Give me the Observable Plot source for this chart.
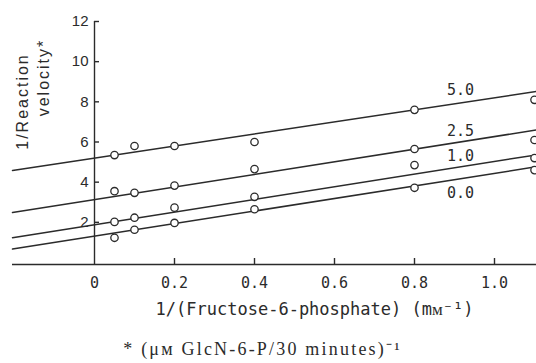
<!DOCTYPE html>
<html>
<head>
<meta charset="utf-8">
<script src="https://cdn.jsdelivr.net/npm/d3@7"></script>
<script src="https://cdn.jsdelivr.net/npm/@observablehq/plot@0.6"></script>
<style>
  html, body { margin: 0; padding: 0; background: #fff; }
  svg { display: block; }
</style>
</head>
<body>
<div id="chart"></div>
<script>
// ---- data ----
const concentrations = ["5.0", "2.5", "1.0", "0.0"];          // GlcN-6-P (series labels)
const fructoseInv = [0.05, 0.1, 0.2, 0.4, 0.8, 1.1];          // 1/(Fructose-6-phosphate)
const velInv_50 = [5.35, 5.8, 5.8, 6.0, 7.6, 8.1];
const velInv_25 = [3.55, 3.47, 3.83, 4.65, 5.65, 6.1];
const velInv_10 = [2.02, 2.23, 2.73, 3.27, 4.85, 5.2];
const velInv_00 = [1.23, 1.63, 1.97, 2.65, 3.72, 4.6];
const fitIntercepts = [5.2, 3.13, 1.88, 1.31];
const fitSlopes = [3.0, 3.14, 3.15, 3.13];
const seriesLabelX = 0.915;
const seriesLabelY = [8.6, 6.55, 5.3, 3.47];
const xTickMarks = [0.2, 0.4, 0.6, 0.8, 1.0];
const xTickLabels = [0, 0.2, 0.4, 0.6, 0.8, 1.0];
const yTicks = [2, 4, 6, 8, 10, 12];
const xDomain = [-0.205, 1.105];
const yDomain = [-0.1, 12];

const xTitle = "1/(Fructose-6-phosphate) (mᴍ⁻¹)";
const yTitle1 = "1/Reaction";
const yTitle2 = "velocity*";
const caption = "* (μᴍ GlcN-6-P/30 minutes)⁻¹";

// ---- build tables ----
const seriesValues = [velInv_50, velInv_25, velInv_10, velInv_00];
const points = [];
concentrations.forEach((c, i) => fructoseInv.forEach((x, j) => points.push({c, x, y: seriesValues[i][j]})));
const fitLines = [];
concentrations.forEach((c, i) => xDomain.forEach(x => fitLines.push({c, x, y: fitIntercepts[i] + fitSlopes[i] * x})));
const labels = concentrations.map((c, i) => ({c, x: seriesLabelX, y: seriesLabelY[i]}));

const W = 536, H = 363, mL = 12, mR = 0, mT = 21, mB = 99;
const pxPerX = (W - mL - mR) / (xDomain[1] - xDomain[0]);
const pxPerY = (H - mT - mB) / (yDomain[1] - yDomain[0]);
const ink = "#2b2b2b";
const mono = "'DejaVu Sans Mono', monospace";
const sans = "'Liberation Sans', Arial, sans-serif";
const serif = "'Liberation Serif', 'Times New Roman', serif";

const plot = Plot.plot({
  width: W, height: H,
  marginLeft: mL, marginRight: mR, marginTop: mT, marginBottom: mB,
  x: {domain: xDomain, axis: null},
  y: {domain: yDomain, axis: null},
  style: {background: "#fff", color: ink},
  marks: [
    Plot.ruleY([yDomain[0]], {x1: xDomain[0], x2: xDomain[1], stroke: ink, strokeWidth: 1.4}),
    Plot.ruleX([0], {y1: yDomain[0], y2: 12, stroke: ink, strokeWidth: 1.4}),
    Plot.ruleX(xTickMarks, {y1: yDomain[0], y2: yDomain[0] + 6 / pxPerY, stroke: ink, strokeWidth: 1.4}),
    Plot.ruleY(yTicks, {x1: 0, x2: 5 / pxPerX, stroke: ink, strokeWidth: 1.4}),
    Plot.text(xTickLabels, {x: d => d, y: yDomain[0], dy: 19, text: d => d === 0 ? "0" : d.toFixed(1),
      fontFamily: mono, fontSize: 15, fill: ink, textAnchor: "middle"}),
    Plot.text(yTicks, {x: 0, y: d => d, dx: -6, text: d => String(d),
      fontFamily: sans, fontSize: 15, fill: ink, textAnchor: "end"}),
    Plot.line(fitLines, {x: "x", y: "y", z: "c", stroke: ink, strokeWidth: 1.5}),
    Plot.dot(points, {x: "x", y: "y", r: 3.7, fill: "#fff", stroke: ink, strokeWidth: 1.3}),
    Plot.text(labels, {x: "x", y: "y", text: "c", fontFamily: mono, fontSize: 15, fill: ink}),
    Plot.text([xTitle], {frameAnchor: "bottom", dx: 40, dy: 45, textAnchor: "middle", lineAnchor: "middle",
      fontFamily: mono, fontSize: 17, fill: ink}),
    Plot.text([yTitle1], {frameAnchor: "top-left", dx: 10, dy: 80, rotate: -90, textAnchor: "middle", lineAnchor: "middle",
      fontFamily: sans, fontSize: 16, fill: ink}),
    Plot.text([yTitle2], {frameAnchor: "top-left", dx: 31, dy: 56, rotate: -90, textAnchor: "middle", lineAnchor: "middle",
      fontFamily: sans, fontSize: 16, fill: ink}),
    Plot.text([caption], {frameAnchor: "bottom", dx: -12, dy: 85, textAnchor: "middle", lineAnchor: "middle",
      fontFamily: serif, fontSize: 18, fill: ink})
  ]
});
// letter spacing to match the typewritten look of the reference
const spacing = new Map([[yTitle1, "2px"], [yTitle2, "2px"], [caption, "2.2px"]]);
d3.select(plot).selectAll("text").each(function() {
  const s = spacing.get(this.textContent);
  if (s) d3.select(this).style("letter-spacing", s);
});
document.getElementById("chart").appendChild(plot);
</script>
</body>
</html>
